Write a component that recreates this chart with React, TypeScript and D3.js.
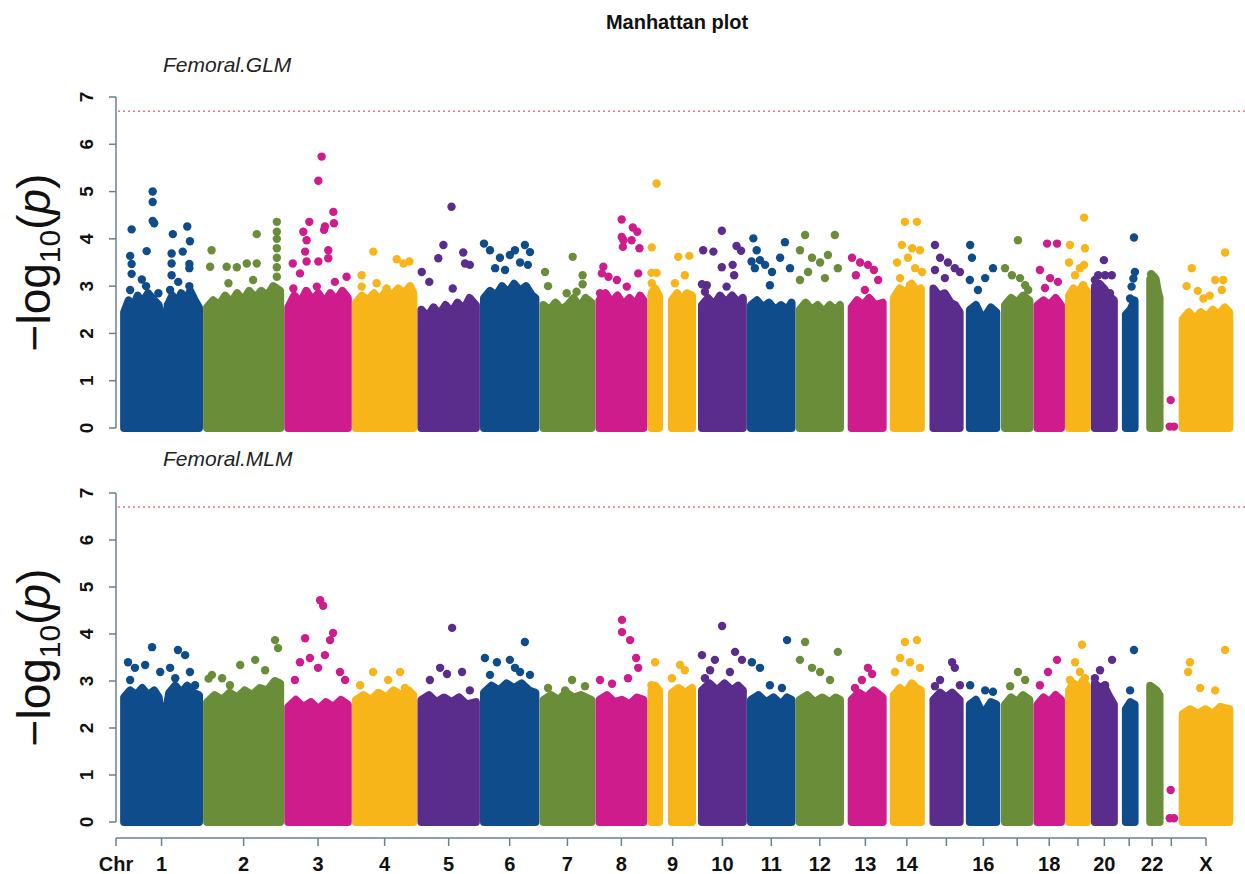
import React from "react";
import * as d3 from "d3";

// chromosome order, lengths (Mb) and axis labels
const chromosomes = ["1", "2", "3", "4", "5", "6", "7", "8", "9", "10", "11", "12", "13", "14", "15", "16", "17", "18", "19", "20", "21", "22", "Y", "X"];
const chromLengths = [249, 243, 198, 191, 181, 171, 159, 146, 141, 136, 135, 134, 115, 107, 102, 90, 81, 78, 59, 63, 48, 51, 22, 155];
const chromGap = 27;
const axisLabels = ["1", "2", "3", "4", "5", "6", "7", "8", "9", "10", "11", "12", "13", "14", "", "16", "", "18", "", "20", "", "22", "", "X"];
const chromColors = ["#0f4c8c", "#6a8d3a", "#cf1c8c", "#f7b51a", "#5a2c8c"];
const yTickValues = [0, 1, 2, 3, 4, 5, 6, 7];
const threshold = 6.7;

// dense body of each chromosome: [position Mb, upper -log10(p)] (NaN = gap)
const glmMass = [
  [[0, 2.45], [15, 2.7], [30, 2.55], [45, 2.8], [60, 2.65], [80, 2.85], [100, 2.7], [115, 2.6], [124, 2.2], [136, 2.1], [145, 2.6], [160, 2.8], [175, 2.65], [190, 2.85], [205, 2.7], [220, 2.9], [235, 2.7], [249, 2.55]],
  [[0, 2.55], [20, 2.7], [40, 2.6], [60, 2.8], [80, 2.65], [100, 2.85], [120, 2.7], [140, 2.9], [160, 2.75], [180, 2.9], [200, 2.8], [220, 3.0], [243, 2.9]],
  [[0, 2.55], [20, 2.8], [40, 2.65], [60, 2.9], [80, 2.7], [100, 2.85], [120, 2.65], [140, 2.85], [160, 2.7], [180, 2.9], [198, 2.75]],
  [[0, 2.65], [20, 2.8], [40, 2.7], [60, 2.85], [80, 2.7], [100, 2.9], [120, 2.8], [140, 2.95], [160, 2.85], [180, 3.0], [191, 2.85]],
  [[0, 2.5], [20, 2.35], [40, 2.55], [60, 2.4], [80, 2.6], [100, 2.45], [120, 2.65], [140, 2.5], [160, 2.75], [181, 2.6]],
  [[0, 2.75], [20, 2.9], [40, 2.8], [60, 3.0], [80, 2.85], [100, 3.05], [120, 2.9], [140, 3.0], [160, 2.8], [171, 2.75]],
  [[0, 2.6], [20, 2.5], [40, 2.65], [60, 2.5], [80, 2.6], [100, 2.75], [120, 2.55], [140, 2.75], [159, 2.65]],
  [[0, 2.7], [20, 2.85], [40, 2.65], [60, 2.8], [80, 2.6], [100, 2.75], [120, 2.6], [135, 2.8], [146, 2.7]],
  [[0, 2.85], [12, 2.95], [25, 2.8], [40, NaN], [68, 2.7], [85, 2.85], [100, 2.7], [118, 2.85], [135, 2.8]],
  [[0, 2.6], [20, 2.75], [40, 2.6], [60, 2.8], [80, 2.65], [100, 2.8], [120, 2.65], [136, 2.75]],
  [[0, 2.6], [20, 2.7], [40, 2.55], [60, 2.65], [80, 2.5], [100, 2.6], [120, 2.5], [135, 2.65]],
  [[0, 2.5], [20, 2.65], [40, 2.5], [60, 2.6], [80, 2.45], [100, 2.6], [120, 2.5], [134, 2.6]],
  [[12, 2.55], [30, 2.7], [50, 2.6], [70, 2.75], [90, 2.6], [115, 2.65]],
  [[10, 2.75], [30, 2.95], [50, 2.85], [70, 3.05], [85, 2.9], [100, 2.95]],
  [[8, 2.95], [25, 2.8], [45, 2.85], [65, 2.65], [80, 2.6], [95, 2.45]],
  [[0, 2.5], [20, 2.6], [35, 2.4], [45, 1.9], [55, 2.4], [70, 2.55], [88, 2.45]],
  [[0, 2.6], [20, 2.75], [40, 2.65], [60, 2.8], [81, 2.7]],
  [[0, 2.6], [20, 2.7], [40, 2.6], [60, 2.75], [78, 2.6]],
  [[0, 2.8], [15, 2.95], [30, 2.85], [45, 3.0], [59, 2.9]],
  [[0, 3.0], [15, 3.05], [30, 2.95], [45, 2.8], [63, 2.7]],
  [[13, 2.4], [28, 2.5], [42, 2.7]],
  [[19, 3.15], [28, 3.22], [37, 3.15], [44, 2.9], [50, 2.75]],
  [],
  [[0, 2.3], [20, 2.45], [40, 2.3], [60, 2.45], [80, 2.35], [100, 2.5], [120, 2.4], [140, 2.55], [155, 2.45]],
];

// single SNPs standing above the body: [position Mb, -log10(p)]
const glmPeaks = [
  [[95, 5.0], [95, 4.78], [95, 4.38], [100, 4.33], [25, 4.2], [162, 4.1], [210, 4.26], [219, 3.95], [195, 3.73], [75, 3.74], [20, 3.64], [25, 3.47], [25, 3.26], [158, 3.69], [158, 3.48], [217, 3.47], [217, 3.38], [158, 3.23], [59, 3.14], [73, 3.0], [20, 2.92], [114, 2.85], [180, 3.09], [217, 3.0], [153, 2.92]],
  [[15, 3.76], [10, 3.41], [65, 3.41], [99, 3.4], [132, 3.48], [165, 3.48], [165, 4.1], [232, 4.36], [232, 4.15], [232, 4.0], [232, 3.8], [232, 3.6], [232, 3.4], [232, 3.2], [71, 3.06], [153, 3.13]],
  [[111, 5.74], [100, 5.23], [150, 4.57], [152, 4.33], [122, 4.26], [119, 4.19], [70, 4.36], [50, 4.15], [61, 3.97], [56, 3.73], [133, 3.76], [133, 3.59], [100, 3.52], [61, 3.52], [15, 3.48], [194, 3.2], [39, 3.27], [155, 3.09], [17, 2.95], [95, 2.99]],
  [[58, 3.73], [136, 3.57], [158, 3.48], [178, 3.52], [19, 3.23], [69, 3.06], [102, 2.95], [19, 2.99]],
  [[100, 4.68], [73, 3.87], [56, 3.59], [139, 3.71], [145, 3.48], [1, 3.3], [26, 3.09], [104, 2.95], [161, 3.45]],
  [[0, 3.9], [20, 3.76], [53, 3.6], [86, 3.66], [103, 3.76], [136, 3.87], [153, 3.72], [120, 3.5], [37, 3.38], [70, 3.34], [146, 3.45]],
  [[97, 3.62], [130, 3.23], [130, 3.04], [77, 2.85], [110, 2.88], [5, 3.3], [15, 3.0]],
  [[74, 4.41], [111, 4.24], [126, 4.15], [74, 4.04], [80, 3.97], [107, 3.97], [133, 3.8], [78, 3.83], [13, 3.41], [8, 3.27], [30, 3.2], [58, 3.13], [129, 3.27], [91, 2.99], [2, 2.85]],
  [[17, 5.17], [1, 3.82], [89, 3.62], [126, 3.64], [0, 3.28], [17, 3.28], [1, 3.06], [78, 3.06], [111, 3.23]],
  [[66, 4.17], [4, 3.76], [38, 3.73], [115, 3.85], [66, 3.4], [102, 3.45], [107, 3.23], [16, 3.02], [0, 3.04], [82, 2.99], [10, 2.88], [130, 3.75]],
  [[8, 4.01], [19, 3.76], [2, 3.52], [13, 3.38], [113, 3.93], [97, 3.6], [47, 3.45], [70, 3.3], [130, 3.38], [63, 3.02], [30, 3.55]],
  [[18, 4.08], [117, 4.08], [1, 3.76], [41, 3.6], [68, 3.5], [94, 3.66], [127, 3.38], [28, 3.3], [84, 3.17], [1, 3.13]],
  [[13, 3.6], [40, 3.5], [66, 3.45], [86, 3.34], [100, 3.13], [26, 3.23], [56, 2.92]],
  [[47, 4.36], [87, 4.36], [37, 3.87], [71, 3.8], [97, 3.76], [21, 3.5], [57, 3.6], [81, 3.38], [104, 3.3], [31, 3.17], [64, 3.02]],
  [[13, 3.87], [30, 3.6], [56, 3.5], [79, 3.38], [96, 3.3], [46, 3.17], [13, 3.34]],
  [[1, 3.87], [7, 3.6], [51, 3.17], [77, 3.38], [27, 2.92], [0, 3.13]],
  [[43, 3.97], [0, 3.38], [23, 3.23], [50, 3.17], [67, 3.02], [77, 2.92]],
  [[32, 3.9], [65, 3.9], [8, 3.34], [42, 3.17], [25, 2.96], [68, 3.09]],
  [[50, 4.45], [53, 3.8], [50, 3.45], [47, 3.02], [3, 3.87], [0, 3.5], [20, 3.23], [36, 3.38]],
  [[30, 3.55], [11, 3.23], [34, 3.23], [56, 3.23], [50, 2.85], [0, 3.13]],
  [[40, 4.03], [43, 3.3], [38, 3.16], [32, 2.99], [27, 2.74]],
  [[22, 3.25], [30, 3.2]],
  [[9, 0.59], [6, 0.03], [20, 0.03]],
  [[141, 3.71], [30, 3.38], [13, 3.0], [108, 3.13], [135, 3.13], [69, 2.74], [130, 2.92], [50, 2.9], [90, 2.8]],
];

const mlmMass = [
  [[0, 2.65], [20, 2.8], [40, 2.7], [60, 2.85], [80, 2.7], [100, 2.8], [115, 2.65], [125, 2.15], [138, 2.3], [150, 2.75], [170, 2.9], [190, 2.75], [210, 2.9], [230, 2.75], [249, 2.7]],
  [[0, 2.55], [25, 2.7], [50, 2.6], [75, 2.75], [100, 2.65], [125, 2.8], [150, 2.7], [175, 2.85], [200, 2.8], [225, 3.0], [243, 2.95]],
  [[0, 2.45], [25, 2.6], [50, 2.45], [75, 2.55], [100, 2.4], [125, 2.55], [150, 2.45], [175, 2.6], [198, 2.5]],
  [[0, 2.6], [25, 2.7], [50, 2.6], [75, 2.75], [100, 2.65], [125, 2.8], [150, 2.7], [175, 2.8], [191, 2.7]],
  [[0, 2.6], [25, 2.7], [50, 2.55], [75, 2.65], [100, 2.55], [125, 2.65], [150, 2.5], [181, 2.55]],
  [[0, 2.75], [25, 2.9], [50, 2.8], [75, 2.95], [100, 2.85], [125, 2.95], [150, 2.8], [171, 2.75]],
  [[0, 2.6], [25, 2.7], [50, 2.6], [75, 2.75], [100, 2.65], [125, 2.7], [159, 2.6]],
  [[0, 2.6], [25, 2.7], [50, 2.55], [75, 2.6], [100, 2.5], [125, 2.65], [146, 2.6]],
  [[0, 2.8], [12, 2.9], [25, 2.8], [40, NaN], [68, 2.75], [90, 2.85], [112, 2.75], [135, 2.85]],
  [[0, 2.8], [25, 2.95], [50, 2.8], [75, 2.95], [100, 2.8], [120, 2.9], [136, 2.8]],
  [[0, 2.6], [25, 2.7], [50, 2.55], [75, 2.65], [100, 2.5], [120, 2.65], [135, 2.6]],
  [[0, 2.6], [25, 2.7], [50, 2.55], [75, 2.65], [100, 2.55], [120, 2.65], [134, 2.6]],
  [[12, 2.6], [35, 2.75], [60, 2.65], [85, 2.8], [115, 2.65]],
  [[10, 2.7], [30, 2.85], [50, 2.75], [70, 2.95], [85, 2.85], [100, 2.8]],
  [[8, 2.6], [30, 2.75], [50, 2.65], [70, 2.75], [95, 2.6]],
  [[0, 2.5], [20, 2.6], [35, 2.4], [45, 2.0], [55, 2.4], [70, 2.55], [88, 2.5]],
  [[0, 2.5], [20, 2.65], [40, 2.55], [60, 2.7], [81, 2.6]],
  [[0, 2.5], [20, 2.65], [40, 2.55], [60, 2.7], [78, 2.6]],
  [[0, 2.8], [15, 2.95], [30, 2.85], [45, 3.0], [59, 2.9]],
  [[0, 2.95], [15, 2.85], [30, 2.9], [45, 2.7], [63, 2.5]],
  [[13, 2.4], [28, 2.55], [42, 2.5]],
  [[19, 2.9], [30, 2.85], [40, 2.8], [50, 2.7]],
  [],
  [[0, 2.3], [25, 2.4], [50, 2.3], [75, 2.4], [100, 2.3], [125, 2.45], [155, 2.4]],
];

const mlmPeaks = [
  [[93, 3.72], [179, 3.66], [203, 3.55], [13, 3.4], [36, 3.28], [70, 3.34], [120, 3.19], [153, 3.28], [219, 3.19], [20, 3.02], [170, 3.06], [236, 2.91]],
  [[226, 3.87], [236, 3.7], [160, 3.45], [110, 3.34], [16, 3.13], [50, 3.06], [193, 3.23], [76, 2.91], [5, 3.05]],
  [[106, 4.72], [116, 4.6], [56, 3.91], [149, 4.02], [139, 3.87], [72, 3.49], [122, 3.55], [39, 3.4], [99, 3.28], [172, 3.19], [22, 3.02], [189, 3.02]],
  [[57, 3.19], [147, 3.19], [107, 3.02], [14, 2.91], [163, 2.85]],
  [[102, 4.13], [62, 3.28], [85, 3.15], [135, 3.19], [28, 3.02], [161, 2.8]],
  [[136, 3.83], [3, 3.49], [43, 3.4], [86, 3.45], [103, 3.28], [120, 3.19], [153, 3.13], [20, 3.13]],
  [[95, 3.02], [15, 2.85], [72, 2.8], [138, 2.89]],
  [[75, 4.3], [75, 4.04], [102, 3.87], [122, 3.49], [129, 3.28], [2, 3.02], [42, 2.94], [95, 3.06]],
  [[12, 3.4], [95, 3.34], [111, 3.23], [68, 3.06], [0, 2.91]],
  [[67, 4.17], [0, 3.55], [43, 3.45], [110, 3.62], [133, 3.45], [27, 3.23], [93, 3.19], [10, 3.06]],
  [[120, 3.87], [30, 3.28], [3, 3.4], [63, 2.91], [103, 2.85]],
  [[18, 3.83], [127, 3.62], [1, 3.45], [41, 3.28], [68, 3.19], [101, 3.02]],
  [[66, 3.28], [80, 3.15], [46, 3.02], [23, 2.85]],
  [[87, 3.87], [47, 3.83], [31, 3.49], [64, 3.4], [97, 3.28], [14, 3.19]],
  [[70, 3.4], [79, 3.28], [30, 3.02], [13, 2.89], [96, 2.91]],
  [[1, 2.91], [51, 2.8], [77, 2.77]],
  [[43, 3.19], [67, 3.02], [17, 2.89]],
  [[65, 3.45], [35, 3.19], [8, 2.91]],
  [[43, 3.77], [20, 3.4], [36, 3.19], [3, 3.02], [53, 3.06]],
  [[57, 3.45], [17, 3.23], [0, 3.06], [34, 2.91]],
  [[40, 3.66], [27, 2.8]],
  [],
  [[9, 0.68], [6, 0.08], [20, 0.08]],
  [[141, 3.66], [24, 3.4], [18, 3.19], [108, 2.8], [58, 2.85]],
];

const font = "'Liberation Sans', Arial, Helvetica, sans-serif";
const axisColor = "#6b808c";

// cumulative start of each chromosome on the genome axis
const offsets: number[] = [];
chromLengths.reduce((acc, len) => {
  offsets.push(acc + chromGap);
  return acc + chromGap + len;
}, 0);
const centers = offsets.map((o, i) => o + chromLengths[i] / 2);

const x = d3.scaleLinear().domain([0, centers[centers.length - 1]]).range([116, 1206]);

const panels = [
  { name: "Femoral.GLM", mass: glmMass, peaks: glmPeaks, y: d3.scaleLinear().domain([0, 7]).range([428, 97]), nameY: 72 },
  { name: "Femoral.MLM", mass: mlmMass, peaks: mlmPeaks, y: d3.scaleLinear().domain([0, 7]).range([822, 493]), nameY: 466 },
];

function Panel({ panel }) {
  const y = panel.y;
  const area = d3
    .area<number[]>()
    .defined((d) => !isNaN(d[1]))
    .x((d) => d[0])
    .y0(y(0))
    .y1((d) => d[1]);
  const midY = (y(0) + y(7)) / 2;
  return (
    <g>
      <text x={163} y={panel.nameY} fontFamily={font} fontSize={21} fontStyle="italic" fill="#222">
        {panel.name}
      </text>
      {/* y axis */}
      <line x1={116} x2={116} y1={y(0)} y2={y(7)} stroke={axisColor} strokeWidth={1.5} />
      {yTickValues.map((t) => (
        <g key={t}>
          <line x1={109} x2={116} y1={y(t)} y2={y(t)} stroke={axisColor} strokeWidth={1.5} />
          <text
            transform={`translate(86,${y(t)}) rotate(-90)`}
            textAnchor="middle"
            dy="0.36em"
            fontFamily={font}
            fontWeight="bold"
            fontSize={19}
            fill="#111"
          >
            {t}
          </text>
        </g>
      ))}
      <text transform={`translate(50,${midY}) rotate(-90)`} textAnchor="middle" fontFamily={font} fontSize={46} fill="#111">
        −log
        <tspan fontSize={30} dy={10}>10</tspan>
        <tspan dy={-10}>(</tspan>
        <tspan fontStyle="italic">p</tspan>)
      </text>
      {/* chromosome bodies */}
      {panel.mass.map((seg, i) => {
        const c = chromColors[i % chromColors.length];
        if (!seg.length) return null;
        const pts = seg.map((d) => [x(offsets[i] + d[0]), isNaN(d[1]) ? NaN : y(d[1])]);
        return (
          <path key={"m" + i} d={area(pts) || ""} fill={c} stroke={c} strokeWidth={8} strokeLinejoin="round" />
        );
      })}
      {/* individual SNPs */}
      {panel.peaks.map((pts, i) =>
        pts.map((d, j) => (
          <circle key={i + "-" + j} cx={x(offsets[i] + d[0])} cy={y(d[1])} r={4.2} fill={chromColors[i % chromColors.length]} />
        ))
      )}
      {/* significance threshold */}
      <line x1={118} x2={1245} y1={y(threshold)} y2={y(threshold)} stroke="#e0606e" strokeWidth={1.5} strokeDasharray="2,3" opacity={0.85} />
    </g>
  );
}

export default function App() {
  const axisY = 838;
  return (
    <svg width={1245} height={874} style={{ position: "absolute", left: 0, top: 0, background: "#fff" }}>
      <rect width={1245} height={874} fill="#fff" />
      <text x={677} y={29} textAnchor="middle" fontFamily={font} fontWeight="bold" fontSize={20} fill="#111">
        Manhattan plot
      </text>
      {panels.map((p) => (
        <Panel key={p.name} panel={p} />
      ))}
      {/* x axis */}
      <line x1={x(0)} x2={x(centers[centers.length - 1])} y1={axisY} y2={axisY} stroke={axisColor} strokeWidth={1.5} />
      <line x1={x(0)} x2={x(0)} y1={axisY} y2={axisY + 8} stroke={axisColor} strokeWidth={1.5} />
      <text x={x(0)} y={871} textAnchor="middle" fontFamily={font} fontWeight="bold" fontSize={20} fill="#111">
        Chr
      </text>
      {centers.map((c, i) => (
        <g key={chromosomes[i]}>
          <line x1={x(c)} x2={x(c)} y1={axisY} y2={axisY + 8} stroke={axisColor} strokeWidth={1.5} />
          <text x={x(c)} y={871} textAnchor="middle" fontFamily={font} fontWeight="bold" fontSize={20} fill="#111">
            {axisLabels[i]}
          </text>
        </g>
      ))}
    </svg>
  );
}
